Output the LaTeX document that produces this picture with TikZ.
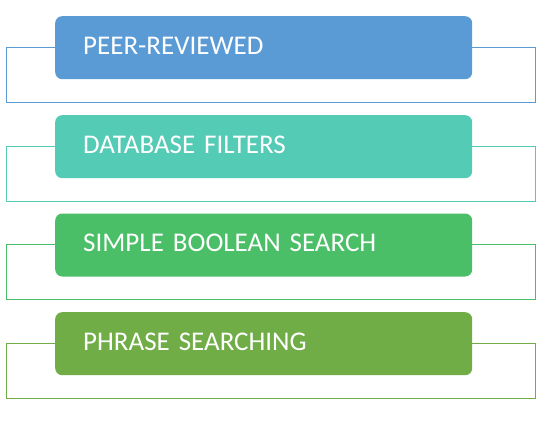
\documentclass[tikz,border=0pt]{standalone}
\usepackage{fontspec}
\setmainfont{Carlito}
\definecolor{cA}{RGB}{91,155,213}
\definecolor{cB}{RGB}{84,203,181}
\definecolor{cC}{RGB}{74,191,103}
\definecolor{cD}{RGB}{112,173,71}
\tikzset{
  itembox/.style={draw=none, rounded corners=7pt, minimum width=417pt, minimum height=63pt,
    inner sep=0pt, anchor=north west, text=white, font=\fontsize{27}{30}\selectfont,
    text width=361pt, align=left},
  frame/.style={line width=1pt}
}
\begin{document}
\begin{tikzpicture}[x=1pt,y=-1pt]
\useasboundingbox (0,0) rectangle (543,428);
\foreach \t/\c/\txt [count=\i] in {16/cA/PEER-REVIEWED,115/cB/DATABASE FILTERS,213.3/cC/SIMPLE BOOLEAN SEARCH,312/cD/PHRASE SEARCHING}{
  \draw[frame, draw=\c] (6.5,\t+31.5) rectangle (535.5,\t+86) coordinate (f\i);
  \node[itembox, fill=\c] (b\i) at (55,\t) {\raisebox{4pt}{\txt}};
}
\end{tikzpicture}
\end{document}
